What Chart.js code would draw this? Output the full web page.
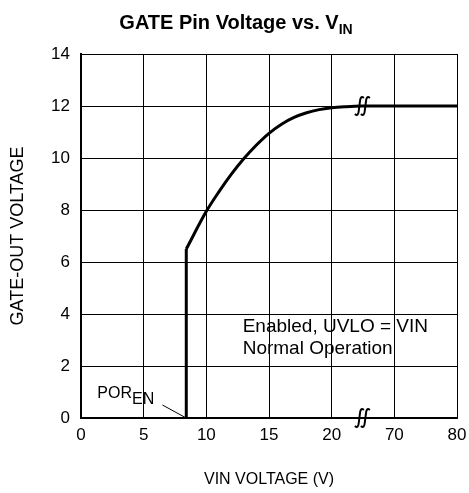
<!DOCTYPE html>
<html>
<head>
<meta charset="utf-8">
<script src="https://cdn.jsdelivr.net/npm/chart.js@4.4.1/dist/chart.umd.min.js"></script>
<style>
 html,body{margin:0;padding:0;background:#fff}
 #wrap{width:469px;height:493px}
</style>
</head>
<body>
<div id="wrap"><canvas id="gateChart"></canvas></div>
<script>
// x axis is broken: positions every 5 units, last two read 70 and 80
const xTickLabels = ["0","5","10","15","20","70","80"]
const yTicks = [0,2,4,6,8,10,12,14]

// vertical jump at POR_EN
const riseX = [8.4, 8.4]
const riseY = [0, 6.5]

// gate voltage curve (x in axis positions)
const curveX = [8.4, 10, 11, 12, 13, 14, 15, 16, 17, 18, 19, 20, 21, 22.4, 26, 30]
const curveY = [6.5, 7.95, 8.7, 9.38, 9.98, 10.5, 10.95, 11.3, 11.56, 11.74, 11.86, 11.93, 11.97, 12, 12, 12]

const breakX = 22.45

const FONT = "'Liberation Sans', Arial, sans-serif"

function pts(xs, ys){ return xs.map((v,i)=>({x:v,y:ys[i]})) }

function drawBreak(ctx, cx, cy){
 ctx.save()
 ctx.strokeStyle="#000"
 ctx.lineWidth=2
 ;[-3,3].forEach(dx=>{
  const x=cx+dx
  ctx.beginPath()
  ctx.moveTo(x+4.5,cy-8)
  ctx.quadraticCurveTo(x+1,cy-11,x+0.5,cy-4)
  ctx.lineTo(x-0.5,cy+4)
  ctx.quadraticCurveTo(x-1,cy+11,x-4.5,cy+8)
  ctx.stroke()
 })
 ctx.restore()
}

const extras = {
 id:"extras",
 afterDraw(chart){
  const {ctx, scales:{x,y}} = chart
  ctx.save()
  ctx.fillStyle="#000"

  // title with subscript
  const main="GATE Pin Voltage vs. V", sub="IN"
  ctx.font="bold 20px "+FONT
  const w1=ctx.measureText(main).width
  ctx.font="bold 14px "+FONT
  const w2=ctx.measureText(sub).width
  let tx=236-(w1+w2)/2
  ctx.textBaseline="alphabetic"
  ctx.textAlign="left"
  ctx.font="bold 20px "+FONT
  ctx.fillText(main,tx,29)
  ctx.font="bold 14px "+FONT
  ctx.fillText(sub,tx+w1,34)

  // annotation text
  ctx.font="19px "+FONT
  ctx.textBaseline="middle"
  ctx.fillText("Enabled, UVLO = VIN", x.getPixelForValue(12.9), y.getPixelForValue(3.5))
  ctx.fillText("Normal Operation", x.getPixelForValue(12.9), y.getPixelForValue(2.65))

  ctx.font="16px "+FONT
  const px=x.getPixelForValue(1.3), py=y.getPixelForValue(0.92)
  ctx.fillText("POR", px, py)
  const wp=ctx.measureText("POR").width
  ctx.fillText("EN", px+wp, py+6)

  // leader line
  ctx.strokeStyle="#000"
  ctx.lineWidth=1
  ctx.beginPath()
  ctx.moveTo(x.getPixelForValue(6.5), y.getPixelForValue(0.5))
  ctx.lineTo(x.getPixelForValue(8.4), y.getPixelForValue(0))
  ctx.stroke()
  ctx.restore()

  drawBreak(ctx, x.getPixelForValue(breakX), y.getPixelForValue(12))
  drawBreak(ctx, x.getPixelForValue(breakX), y.getPixelForValue(0))
 }
}

new Chart(document.getElementById("gateChart"),{
 type:"scatter",
 data:{
  datasets:[{
   data:pts(riseX,riseY),
   showLine:true,
   borderColor:"#000",
   borderWidth:3,
   pointRadius:0,
   tension:0
  },{
   data:pts(curveX,curveY),
   showLine:true,
   borderColor:"#000",
   borderWidth:3,
   pointRadius:0,
   cubicInterpolationMode:"monotone"
  }]
 },
 options:{
  responsive:true,
  maintainAspectRatio:false,
  animation:false,
  layout:{padding:{top:54,right:12,left:0,bottom:0}},
  plugins:{legend:{display:false},tooltip:{enabled:false}},
  scales:{
   x:{
    type:"linear",
    min:0,max:30,
    afterFit(s){ s.height=75; s.paddingLeft=0; s.paddingRight=0 },
    afterBuildTicks(s){ s.ticks=xTickLabels.map((t,i)=>({value:i*5})) },
    ticks:{
     callback:(v)=>xTickLabels[Math.round(v/5)],
     color:"#000",
     font:{size:17,family:FONT},
     padding:7,
     maxRotation:0
    },
    grid:{color:"#000",lineWidth:1,drawTicks:false},
    border:{color:"#000",width:2},
    title:{
     display:true,
     text:"VIN VOLTAGE (V)",
     color:"#000",
     font:{size:16,family:FONT},
     padding:{bottom:4}
    }
   },
   y:{
    min:0,max:14,
    afterFit(s){ s.width=81 },
    afterBuildTicks(s){ s.ticks=yTicks.map(v=>({value:v})) },
    ticks:{
     color:"#000",
     font:{size:17,family:FONT},
     padding:11
    },
    grid:{color:"#000",lineWidth:1,drawTicks:false},
    border:{color:"#000",width:2},
    title:{
     display:true,
     text:"GATE-OUT VOLTAGE",
     color:"#000",
     font:{size:18,family:FONT},
     padding:{top:7}
    }
   }
  }
 },
 plugins:[extras]
})
</script>
</body>
</html>
